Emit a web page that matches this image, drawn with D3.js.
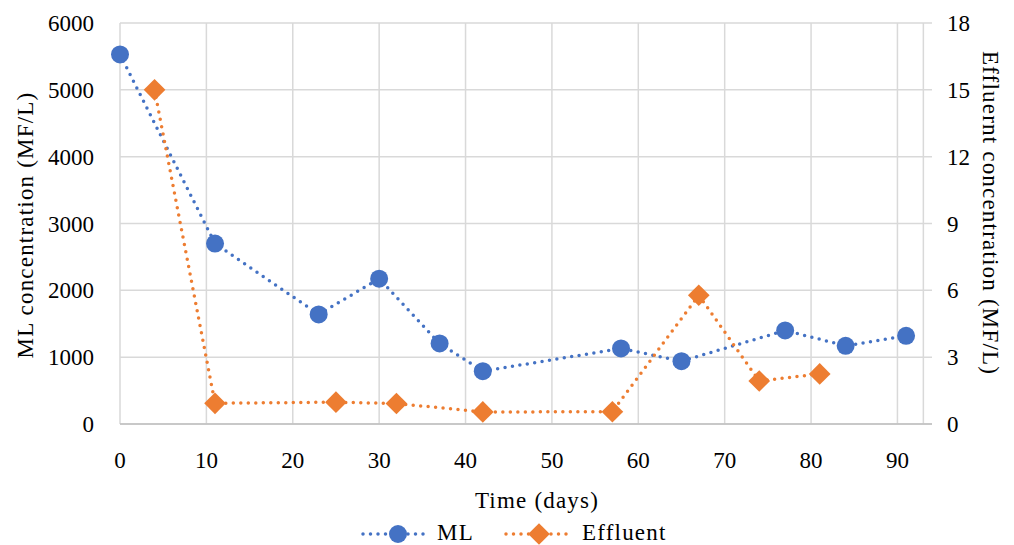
<!DOCTYPE html>
<html>
<head>
<meta charset="utf-8">
<script src="https://cdn.jsdelivr.net/npm/d3@7"></script>
<style>
  body { margin: 0; background: #fff; }
  text { font-family: "Liberation Serif", "DejaVu Serif", serif; fill: #000; }
</style>
</head>
<body>
<svg width="1014" height="545"></svg>
<script>
// data
const mlDays = [0, 11, 23, 30, 37, 42, 58, 65, 77, 84, 91];
const mlValues = [5530, 2700, 1640, 2175, 1205, 790, 1130, 940, 1400, 1170, 1320];
const effDays = [4, 11, 25, 32, 42, 57, 67, 74, 81];
const effValues = [15.0, 0.93, 0.98, 0.92, 0.54, 0.55, 5.78, 1.93, 2.25];
const xTicks = [0, 10, 20, 30, 40, 50, 60, 70, 80, 90];
const leftTicks = [0, 1000, 2000, 3000, 4000, 5000, 6000];
const rightTicks = [0, 3, 6, 9, 12, 15, 18];

const svg = d3.select('svg');
const blue = '#4472C4', orange = '#ED7D31', grid = '#D9D9D9';
const fs = 23;

const pLeft = 120, pRight = 932, pTop = 23, pBottom = 424;

const x = d3.scaleLinear().domain([0, 94]).range([pLeft, pRight]);
const yL = d3.scaleLinear().domain([0, 6000]).range([pBottom, pTop]);
const yR = d3.scaleLinear().domain([0, 18]).range([pBottom, pTop]);

// grid
const g = svg.append('g');
g.selectAll('.hg').data(leftTicks).enter().append('line')
  .attr('x1', pLeft).attr('x2', pRight)
  .attr('y1', d => yL(d)).attr('y2', d => yL(d))
  .attr('stroke', grid).attr('stroke-width', 1.5);
g.selectAll('.vg').data(xTicks.concat([93])).enter().append('line')
  .attr('x1', d => x(d)).attr('x2', d => x(d))
  .attr('y1', pTop).attr('y2', pBottom)
  .attr('stroke', grid).attr('stroke-width', 1.5);
// bottom axis line
g.append('line').attr('x1', pLeft).attr('x2', pRight).attr('y1', pBottom).attr('y2', pBottom)
  .attr('stroke', '#BFBFBF').attr('stroke-width', 1.5);

// tick labels
svg.selectAll('.xl').data(xTicks).enter().append('text')
  .attr('x', d => x(d)).attr('y', 468)
  .attr('text-anchor', 'middle').attr('font-size', fs)
  .text(d => d);
svg.selectAll('.ll').data(leftTicks).enter().append('text')
  .attr('x', 94).attr('y', d => yL(d) + 8)
  .attr('text-anchor', 'end').attr('font-size', fs)
  .text(d => d);
svg.selectAll('.rl').data(rightTicks).enter().append('text')
  .attr('x', 947).attr('y', d => yR(d) + 8)
  .attr('text-anchor', 'start').attr('font-size', fs)
  .text(d => d);

// axis titles
svg.append('text').attr('x', 537).attr('y', 508).attr('text-anchor', 'middle')
  .attr('font-size', fs).attr('letter-spacing', 1.2).text('Time (days)');
svg.append('text').attr('transform', 'translate(33,225) rotate(-90)')
  .attr('text-anchor', 'middle').attr('font-size', fs).attr('letter-spacing', 1.2)
  .text('ML concentration (MF/L)');
svg.append('text').attr('transform', 'translate(983,213) rotate(90)')
  .attr('text-anchor', 'middle').attr('font-size', fs).attr('letter-spacing', 1.2)
  .text('Effluernt concentration (MF/L)');

// series lines
const dotted = sel => sel.attr('fill', 'none').attr('stroke-width', 3.5)
  .attr('stroke-linecap', 'round').attr('stroke-dasharray', '0 7.5');

const ml = mlDays.map((d, i) => [d, mlValues[i]]);
const eff = effDays.map((d, i) => [d, effValues[i]]);

svg.append('path').datum(ml)
  .attr('d', d3.line().x(d => x(d[0])).y(d => yL(d[1])))
  .attr('stroke', blue).call(dotted);
svg.append('path').datum(eff)
  .attr('d', d3.line().x(d => x(d[0])).y(d => yR(d[1])))
  .attr('stroke', orange).call(dotted);

const diamond = d3.symbol().type(d3.symbolDiamond2).size(300);

svg.selectAll('.mlp').data(ml).enter().append('circle')
  .attr('cx', d => x(d[0])).attr('cy', d => yL(d[1])).attr('r', 9)
  .attr('fill', blue);
svg.selectAll('.efp').data(eff).enter().append('path')
  .attr('d', diamond)
  .attr('transform', d => `translate(${x(d[0])},${yR(d[1])})`)
  .attr('fill', orange);

// legend
const lg = svg.append('g');
lg.append('line').attr('x1', 363).attr('x2', 428).attr('y1', 534).attr('y2', 534)
  .attr('stroke', blue).call(dotted);
lg.append('circle').attr('cx', 398).attr('cy', 534).attr('r', 9).attr('fill', blue);
lg.append('text').attr('x', 437).attr('y', 540).attr('font-size', fs).attr('letter-spacing', 1.2).text('ML');
lg.append('line').attr('x1', 506).attr('x2', 568).attr('y1', 534).attr('y2', 534)
  .attr('stroke', orange).call(dotted);
lg.append('path').attr('d', diamond).attr('transform', 'translate(539,534)').attr('fill', orange);
lg.append('text').attr('x', 582).attr('y', 540).attr('font-size', fs).attr('letter-spacing', 1.2).text('Effluent');
</script>
</body>
</html>
